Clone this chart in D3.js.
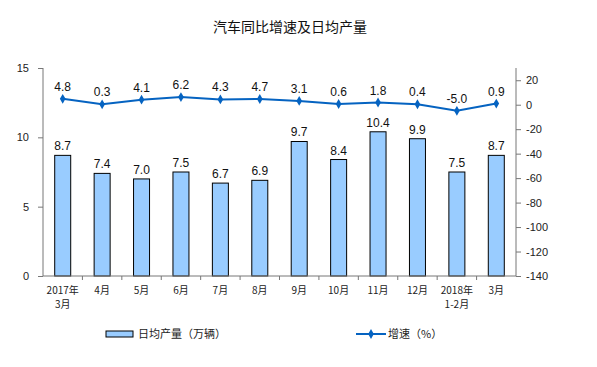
<!DOCTYPE html>
<html>
<head>
<meta charset="utf-8">
<script src="https://cdn.jsdelivr.net/npm/d3@7"></script>
<style>
  body { margin: 0; background: #fff; }
  svg { font-family: "Liberation Sans", Arial, sans-serif; }
  .cjk { font-family: "Noto Sans CJK SC", sans-serif; }
</style>
</head>
<body>
<svg id="chart" width="597" height="367"></svg>
<script>
const months = ['2017年|3月', '4月', '5月', '6月', '7月', '8月', '9月', '10月', '11月', '12月', '2018年|1-2月', '3月']
const output = [8.7, 7.4, 7.0, 7.5, 6.7, 6.9, 9.7, 8.4, 10.4, 9.9, 7.5, 8.7]
const growth = [4.8, 0.3, 4.1, 6.2, 4.3, 4.7, 3.1, 0.6, 1.8, 0.4, -5.0, 0.9]
const leftTicks = [0, 5, 10, 15]
const rightTicks = [20, 0, -20, -40, -60, -80, -100, -120, -140]

const barColor = '#99ccff'
const lineColor = '#0563c1'

const svg = d3.select('#chart')
const plotL = 43, plotR = 516, plotT = 68, plotB = 276

const x = d3.scaleBand().domain(months).range([plotL, plotR])
const yL = d3.scaleLinear().domain([0, 15]).range([plotB, plotT])
const yR = d3.scaleLinear().domain([-140, 30]).range([plotB, plotT])

// title
svg.append('text')
	.attr('class', 'cjk')
	.attr('x', 290).attr('y', 32)
	.attr('text-anchor', 'middle')
	.attr('font-size', 14)
	.attr('fill', '#111')
	.text('汽车同比增速及日均产量')

// left axis
const axL = svg.append('g').attr('transform', `translate(${plotL},0)`)
	.call(d3.axisLeft(yL).tickValues(leftTicks).tickFormat((d) => String(d)).tickSize(5).tickPadding(9))
axL.select('.domain').attr('stroke', '#777').attr('d', `M0,${plotT}V${plotB}`)
axL.selectAll('.tick line').attr('stroke', '#777')
axL.selectAll('.tick text').attr('font-size', 11).attr('fill', '#222')

// right axis (plain hyphen minus like the original)
const axR = svg.append('g').attr('transform', `translate(${plotR},0)`)
	.call(d3.axisRight(yR).tickValues(rightTicks).tickFormat((d) => String(d)).tickSize(5).tickPadding(5))
axR.select('.domain').attr('stroke', '#777').attr('d', `M0,${plotT}V${plotB}`)
axR.selectAll('.tick line').attr('stroke', '#777')
axR.selectAll('.tick text').attr('font-size', 11).attr('fill', '#222')

// bars
const bw = 16
svg.selectAll('.bar')
	.data(output)
	.join('rect')
		.attr('class', 'bar')
		.attr('x', (d, i) => x(months[i]) + x.bandwidth() / 2 - bw / 2)
		.attr('y', (d) => yL(d))
		.attr('width', bw)
		.attr('height', (d) => plotB - yL(d))
		.attr('fill', barColor)
		.attr('stroke', '#000')
		.attr('stroke-width', 1)

svg.selectAll('.bar-label')
	.data(output)
	.join('text')
		.attr('x', (d, i) => x(months[i]) + x.bandwidth() / 2)
		.attr('y', (d) => yL(d) - 5)
		.attr('text-anchor', 'middle')
		.attr('font-size', 12)
		.attr('fill', '#111')
		.text((d) => d.toFixed(1))

// x axis baseline and ticks
svg.append('line')
	.attr('x1', plotL).attr('x2', plotR)
	.attr('y1', plotB).attr('y2', plotB)
	.attr('stroke', '#777')
svg.selectAll('.xtick')
	.data(months.slice(1))
	.join('line')
		.attr('x1', (d) => x(d)).attr('x2', (d) => x(d))
		.attr('y1', plotB).attr('y2', plotB + 4)
		.attr('stroke', '#777')

// x labels, second line as its own text so boxes don't overlap
const xlab = svg.selectAll('.xlabel')
	.data(months.flatMap((m) => m.split('|').map((t, j) => ({ m, t, j }))))
	.join('text')
		.attr('class', 'cjk')
		.attr('x', (d) => x(d.m) + x.bandwidth() / 2)
		.attr('y', (d) => plotB + 18 + d.j * 14)
		.attr('text-anchor', 'middle')
		.attr('font-size', 10)
		.attr('fill', '#222')
		.text((d) => d.t)

// line
const pts = growth.map((g, i) => [x(months[i]) + x.bandwidth() / 2, yR(g)])
svg.append('path')
	.attr('d', d3.line()(pts))
	.attr('fill', 'none')
	.attr('stroke', lineColor)
	.attr('stroke-width', 2)

const diamond = d3.symbol().type(d3.symbolDiamond).size(28)
svg.selectAll('.pt')
	.data(pts)
	.join('path')
		.attr('d', diamond)
		.attr('transform', (d) => `translate(${d[0]},${d[1]})`)
		.attr('fill', lineColor)

svg.selectAll('.pt-label')
	.data(growth)
	.join('text')
		.attr('x', (d, i) => pts[i][0])
		.attr('y', (d, i) => pts[i][1] - 8)
		.attr('text-anchor', 'middle')
		.attr('font-size', 12)
		.attr('fill', '#111')
		.text((d) => d.toFixed(1))

// legend
const lg = svg.append('g')
lg.append('rect')
	.attr('x', 106).attr('y', 331).attr('width', 27).attr('height', 6)
	.attr('fill', barColor).attr('stroke', '#000')
lg.append('text')
	.attr('class', 'cjk')
	.attr('x', 138).attr('y', 338)
	.attr('font-size', 11).attr('fill', '#222')
	.text('日均产量（万辆）')
lg.append('line')
	.attr('x1', 356).attr('x2', 386).attr('y1', 334).attr('y2', 334)
	.attr('stroke', lineColor).attr('stroke-width', 2)
lg.append('path')
	.attr('d', diamond)
	.attr('transform', 'translate(371,334)')
	.attr('fill', lineColor)
lg.append('text')
	.attr('class', 'cjk')
	.attr('x', 388).attr('y', 338)
	.attr('font-size', 11).attr('fill', '#222')
	.text('增速（%）')
</script>
</body>
</html>
